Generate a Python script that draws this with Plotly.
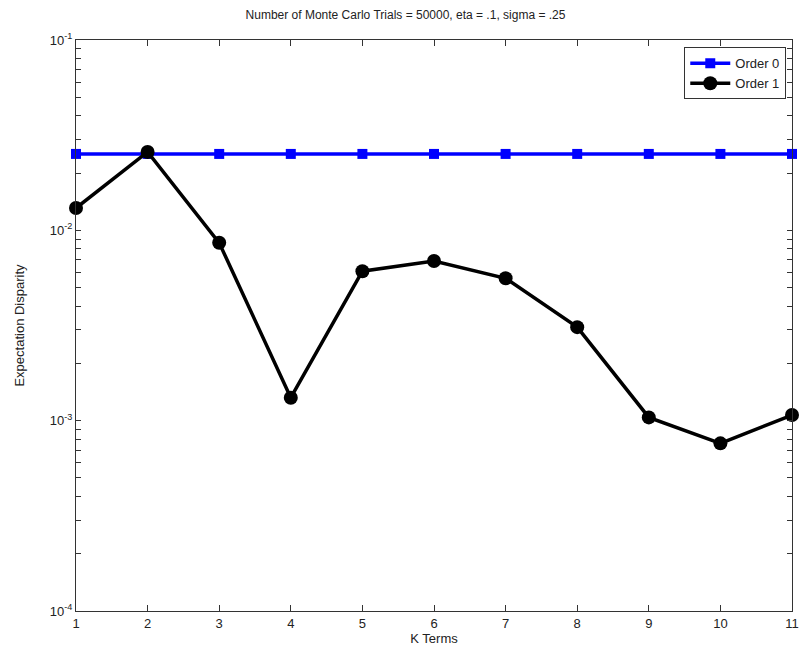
import plotly.graph_objects as go

k_terms = [1, 2, 3, 4, 5, 6, 7, 8, 9, 10, 11]
order0 = [0.0252] * 11
order1 = [0.0131, 0.0258, 0.0086, 0.00132, 0.0061, 0.0069, 0.0056, 0.0031, 0.00104, 0.00076, 0.00107]
ytick_vals = [1e-4, 1e-3, 1e-2, 1e-1]
ytick_text = ["10<sup>-4</sup>", "10<sup>-3</sup>", "10<sup>-2</sup>", "10<sup>-1</sup>"]
minor_mult = [2, 3, 4, 5, 6, 7, 8, 9]
minor_decades = [1e-4, 1e-3, 1e-2]
minor_vals = [m * d for d in minor_decades for m in minor_mult]

FONT = "Liberation Sans, Arial, sans-serif"

fig = go.Figure()
fig.add_trace(go.Scatter(
    x=k_terms, y=order0, name="Order 0", mode="lines+markers",
    line=dict(color="#0000ff", width=3.5),
    marker=dict(symbol="square", size=10, color="#0000ff"),
    cliponaxis=False,
))
fig.add_trace(go.Scatter(
    x=k_terms, y=order1, name="Order 1", mode="lines+markers",
    line=dict(color="#000000", width=3.5),
    marker=dict(symbol="circle", size=14, color="#000000"),
    cliponaxis=False,
))

fig.update_layout(
    width=811, height=659,
    margin=dict(l=76, r=14, t=40, b=48),
    paper_bgcolor="white", plot_bgcolor="white",
    font=dict(family=FONT, size=13, color="#222"),
    title=dict(text="Number of Monte Carlo Trials = 50000, eta = .1, sigma = .25",
               x=0.5, xanchor="center", y=0.978, yanchor="middle",
               font=dict(size=12, color="#222")),
    showlegend=True,
    legend=dict(x=0.992, xanchor="right", y=0.987, yanchor="top",
                bordercolor="#333", borderwidth=1, bgcolor="white",
                font=dict(size=13), tracegroupgap=0, itemwidth=40),
)
fig.update_xaxes(
    range=[1, 11], tickmode="array", tickvals=k_terms,
    ticks="inside", ticklen=6, tickcolor="#333",
    showline=True, linecolor="#333", linewidth=1.2, mirror="allticks",
    showgrid=False, zeroline=False,
    title=dict(text="K Terms", standoff=4, font=dict(size=13)),
)
fig.update_yaxes(
    type="log", range=[-4, -1], tickmode="array",
    tickvals=ytick_vals + minor_vals,
    ticktext=ytick_text + [""] * len(minor_vals),
    ticks="inside", ticklen=5, tickcolor="#333",
    showline=True, linecolor="#333", linewidth=1.2, mirror="allticks",
    showgrid=False, zeroline=False,
    title=dict(text="Expectation Disparity", standoff=22, font=dict(size=13)),
)

fig.write_html("out.html")
